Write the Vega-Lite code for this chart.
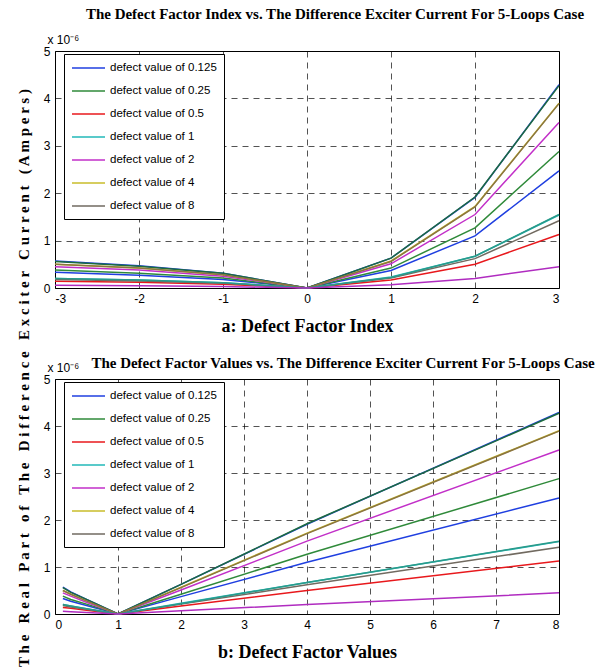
{
  "$schema": "https://vega.github.io/schema/vega-lite/v6.json",
  "background": "white",
  "padding": {"left": 16, "top": 6, "right": 0, "bottom": 0},
  "title": {
    "text": "T h e \u00a0 R e a l \u00a0 P a r t \u00a0 o f \u00a0 T h e \u00a0 D i f f e r e n c e \u00a0 E x c i t e r \u00a0 C u r r e n t \u00a0 ( A m p e r s )",
    "orient": "left",
    "anchor": "middle",
    "font": "Liberation Serif",
    "fontSize": 15,
    "fontWeight": "bold",
    "color": "black",
    "offset": 11,
    "dx": -44
  },
  "datasets": {
    "leg": [
      {"s": "defect value of 0.125", "i": -3, "f": 0.125, "v": 0.33},
      {"s": "defect value of 0.125", "i": -2, "f": 0.25, "v": 0.27},
      {"s": "defect value of 0.125", "i": -1, "f": 0.5, "v": 0.18},
      {"s": "defect value of 0.125", "i": 0, "f": 1, "v": 0},
      {"s": "defect value of 0.125", "i": 1, "f": 2, "v": 0.37},
      {"s": "defect value of 0.125", "i": 2, "f": 4, "v": 1.1},
      {"s": "defect value of 0.125", "i": 3, "f": 8, "v": 2.47},
      {"s": "defect value of 0.25", "i": -3, "f": 0.125, "v": 0.38},
      {"s": "defect value of 0.25", "i": -2, "f": 0.25, "v": 0.31},
      {"s": "defect value of 0.25", "i": -1, "f": 0.5, "v": 0.21},
      {"s": "defect value of 0.25", "i": 0, "f": 1, "v": 0},
      {"s": "defect value of 0.25", "i": 1, "f": 2, "v": 0.42},
      {"s": "defect value of 0.25", "i": 2, "f": 4, "v": 1.27},
      {"s": "defect value of 0.25", "i": 3, "f": 8, "v": 2.88},
      {"s": "defect value of 0.5", "i": -3, "f": 0.125, "v": 0.14},
      {"s": "defect value of 0.5", "i": -2, "f": 0.25, "v": 0.12},
      {"s": "defect value of 0.5", "i": -1, "f": 0.5, "v": 0.08},
      {"s": "defect value of 0.5", "i": 0, "f": 1, "v": 0},
      {"s": "defect value of 0.5", "i": 1, "f": 2, "v": 0.17},
      {"s": "defect value of 0.5", "i": 2, "f": 4, "v": 0.5},
      {"s": "defect value of 0.5", "i": 3, "f": 8, "v": 1.13},
      {"s": "defect value of 1", "i": -3, "f": 0.125, "v": 0.2},
      {"s": "defect value of 1", "i": -2, "f": 0.25, "v": 0.17},
      {"s": "defect value of 1", "i": -1, "f": 0.5, "v": 0.11},
      {"s": "defect value of 1", "i": 0, "f": 1, "v": 0},
      {"s": "defect value of 1", "i": 1, "f": 2, "v": 0.23},
      {"s": "defect value of 1", "i": 2, "f": 4, "v": 0.67},
      {"s": "defect value of 1", "i": 3, "f": 8, "v": 1.54},
      {"s": "defect value of 2", "i": -3, "f": 0.125, "v": 0.45},
      {"s": "defect value of 2", "i": -2, "f": 0.25, "v": 0.38},
      {"s": "defect value of 2", "i": -1, "f": 0.5, "v": 0.25},
      {"s": "defect value of 2", "i": 0, "f": 1, "v": 0},
      {"s": "defect value of 2", "i": 1, "f": 2, "v": 0.51},
      {"s": "defect value of 2", "i": 2, "f": 4, "v": 1.55},
      {"s": "defect value of 2", "i": 3, "f": 8, "v": 3.49},
      {"s": "defect value of 4", "i": -3, "f": 0.125, "v": 0.5},
      {"s": "defect value of 4", "i": -2, "f": 0.25, "v": 0.42},
      {"s": "defect value of 4", "i": -1, "f": 0.5, "v": 0.28},
      {"s": "defect value of 4", "i": 0, "f": 1, "v": 0},
      {"s": "defect value of 4", "i": 1, "f": 2, "v": 0.57},
      {"s": "defect value of 4", "i": 2, "f": 4, "v": 1.72},
      {"s": "defect value of 4", "i": 3, "f": 8, "v": 3.9},
      {"s": "defect value of 8", "i": -3, "f": 0.125, "v": 0.18},
      {"s": "defect value of 8", "i": -2, "f": 0.25, "v": 0.15},
      {"s": "defect value of 8", "i": -1, "f": 0.5, "v": 0.1},
      {"s": "defect value of 8", "i": 0, "f": 1, "v": 0},
      {"s": "defect value of 8", "i": 1, "f": 2, "v": 0.21},
      {"s": "defect value of 8", "i": 2, "f": 4, "v": 0.62},
      {"s": "defect value of 8", "i": 3, "f": 8, "v": 1.42}
    ],
    "ext": [
      {"e": "x1", "i": -3, "f": 0.125, "v": 0.57},
      {"e": "x1", "i": -2, "f": 0.25, "v": 0.47},
      {"e": "x1", "i": -1, "f": 0.5, "v": 0.31},
      {"e": "x1", "i": 0, "f": 1, "v": 0},
      {"e": "x1", "i": 1, "f": 2, "v": 0.63},
      {"e": "x1", "i": 2, "f": 4, "v": 1.91},
      {"e": "x1", "i": 3, "f": 8, "v": 4.29},
      {"e": "x2", "i": -3, "f": 0.125, "v": 0.56},
      {"e": "x2", "i": -2, "f": 0.25, "v": 0.46},
      {"e": "x2", "i": -1, "f": 0.5, "v": 0.31},
      {"e": "x2", "i": 0, "f": 1, "v": 0},
      {"e": "x2", "i": 1, "f": 2, "v": 0.63},
      {"e": "x2", "i": 2, "f": 4, "v": 1.92},
      {"e": "x2", "i": 3, "f": 8, "v": 4.27},
      {"e": "x3", "i": -3, "f": 0.125, "v": 0.5},
      {"e": "x3", "i": -2, "f": 0.25, "v": 0.42},
      {"e": "x3", "i": -1, "f": 0.5, "v": 0.28},
      {"e": "x3", "i": 0, "f": 1, "v": 0},
      {"e": "x3", "i": 1, "f": 2, "v": 0.56},
      {"e": "x3", "i": 2, "f": 4, "v": 1.71},
      {"e": "x3", "i": 3, "f": 8, "v": 3.89},
      {"e": "x4", "i": -3, "f": 0.125, "v": 0.2},
      {"e": "x4", "i": -2, "f": 0.25, "v": 0.17},
      {"e": "x4", "i": -1, "f": 0.5, "v": 0.11},
      {"e": "x4", "i": 0, "f": 1, "v": 0},
      {"e": "x4", "i": 1, "f": 2, "v": 0.22},
      {"e": "x4", "i": 2, "f": 4, "v": 0.67},
      {"e": "x4", "i": 3, "f": 8, "v": 1.55},
      {"e": "x5", "i": -3, "f": 0.125, "v": 0.06},
      {"e": "x5", "i": -2, "f": 0.25, "v": 0.05},
      {"e": "x5", "i": -1, "f": 0.5, "v": 0.03},
      {"e": "x5", "i": 0, "f": 1, "v": 0},
      {"e": "x5", "i": 1, "f": 2, "v": 0.07},
      {"e": "x5", "i": 2, "f": 4, "v": 0.2},
      {"e": "x5", "i": 3, "f": 8, "v": 0.45}
    ]
  },
  "spacing": 19,
  "vconcat": [
    {
      "title": {"text": "The Defect Factor Index vs. The Difference Exciter Current For 5-Loops Case", "dx": 28, "offset": 11},
      "width": 504,
      "height": 237,
      "layer": [
        {
          "data": {"name": "leg"},
          "mark": {"type": "line", "strokeWidth": 1.5},
          "encoding": {
            "x": {"field": "i", "type": "quantitative", "scale": {"domain": [-3, 3], "nice": false, "zero": false},
                  "axis": {"title": "a: Defect Factor Index", "values": [-3, -2, -1, 0, 1, 2, 3], "labelExpr": "datum.value + ''"}},
            "y": {"field": "v", "type": "quantitative", "scale": {"domain": [0, 5], "nice": false},
                  "axis": {"title": "x 10\u207b\u2076", "values": [0, 1, 2, 3, 4, 5], "format": "d"}},
            "color": {"field": "s", "type": "nominal",
                      "scale": {"domain": ["defect value of 0.125", "defect value of 0.25", "defect value of 0.5", "defect value of 1", "defect value of 2", "defect value of 4", "defect value of 8"],
                                "range": ["#1f3fe0", "#2f8a3a", "#e8181c", "#22b8b8", "#c22fc8", "#c8bc2a", "#716a60"]},
                      "legend": {"orient": "none", "legendX": 9, "legendY": 3}}
          }
        },
        {
          "data": {"name": "ext"},
          "mark": {"type": "line", "strokeWidth": 1.5},
          "encoding": {
            "x": {"field": "i", "type": "quantitative"},
            "y": {"field": "v", "type": "quantitative"},
            "color": {"field": "e", "type": "nominal",
                      "scale": {"domain": ["x1", "x2", "x3", "x4", "x5"], "range": ["#1f3fe0", "#1d6b3e", "#8a7440", "#2a9a8a", "#b02cc0"]},
                      "legend": null}
          }
        }
      ],
      "resolve": {"scale": {"color": "independent"}}
    },
    {
      "title": {"text": "The Defect Factor Values vs. The Difference Exciter Current For 5-Loops Case", "dx": 36, "offset": -10},
      "width": 504,
      "height": 235,
      "layer": [
        {
          "data": {"name": "leg"},
          "mark": {"type": "line", "strokeWidth": 1.5},
          "encoding": {
            "x": {"field": "f", "type": "quantitative", "scale": {"domain": [0, 8], "nice": false},
                  "axis": {"title": "b: Defect Factor Values", "values": [0, 1, 2, 3, 4, 5, 6, 7, 8], "format": "d"}},
            "y": {"field": "v", "type": "quantitative", "scale": {"domain": [0, 5], "nice": false},
                  "axis": {"title": "x 10\u207b\u2076", "values": [0, 1, 2, 3, 4, 5], "format": "d"}},
            "color": {"field": "s", "type": "nominal",
                      "scale": {"domain": ["defect value of 0.125", "defect value of 0.25", "defect value of 0.5", "defect value of 1", "defect value of 2", "defect value of 4", "defect value of 8"],
                                "range": ["#1f3fe0", "#2f8a3a", "#e8181c", "#22b8b8", "#c22fc8", "#c8bc2a", "#716a60"]},
                      "legend": {"orient": "none", "legendX": 9, "legendY": 3}}
          }
        },
        {
          "data": {"name": "ext"},
          "mark": {"type": "line", "strokeWidth": 1.5},
          "encoding": {
            "x": {"field": "f", "type": "quantitative"},
            "y": {"field": "v", "type": "quantitative"},
            "color": {"field": "e", "type": "nominal",
                      "scale": {"domain": ["x1", "x2", "x3", "x4", "x5"], "range": ["#1f3fe0", "#1d6b3e", "#8a7440", "#2a9a8a", "#b02cc0"]},
                      "legend": null}
          }
        }
      ],
      "resolve": {"scale": {"color": "independent"}}
    }
  ],
  "resolve": {"scale": {"color": "independent"}, "legend": {"color": "independent"}},
  "config": {
    "view": {"stroke": "black", "strokeWidth": 1},
    "title": {"font": "Liberation Serif", "fontSize": 15, "fontWeight": "bold", "color": "black", "anchor": "middle"},
    "axis": {
      "grid": true,
      "gridColor": "black",
      "gridDash": [6, 5],
      "gridOpacity": 0.85,
      "gridWidth": 0.8,
      "domain": false,
      "ticks": false,
      "labelFont": "Liberation Sans Narrow, Liberation Sans",
      "labelFontSize": 12,
      "labelColor": "black",
      "labelPadding": 5
    },
    "axisX": {
      "titleFont": "Liberation Serif",
      "titleFontSize": 18,
      "titleFontWeight": "bold",
      "titleColor": "black",
      "titlePadding": 13
    },
    "axisY": {
      "titleAngle": 0,
      "titleAlign": "left",
      "titleBaseline": "bottom",
      "titleX": -8,
      "titleY": -5,
      "titleFont": "Liberation Sans Narrow, Liberation Sans",
      "titleFontSize": 12,
      "titleFontWeight": "normal",
      "titleColor": "black"
    },
    "legend": {
      "title": null,
      "symbolType": "M-1,0H4.5",
      "symbolSize": 144,
      "symbolStrokeWidth": 1.5,
      "labelFont": "Liberation Sans Narrow, Liberation Sans",
      "labelFontSize": 11.5,
      "labelColor": "black",
      "labelOffset": 25,
      "rowPadding": 10,
      "padding": 7,
      "strokeColor": "black",
      "fillColor": "white",
      "labelLimit": 200
    }
  }
}
